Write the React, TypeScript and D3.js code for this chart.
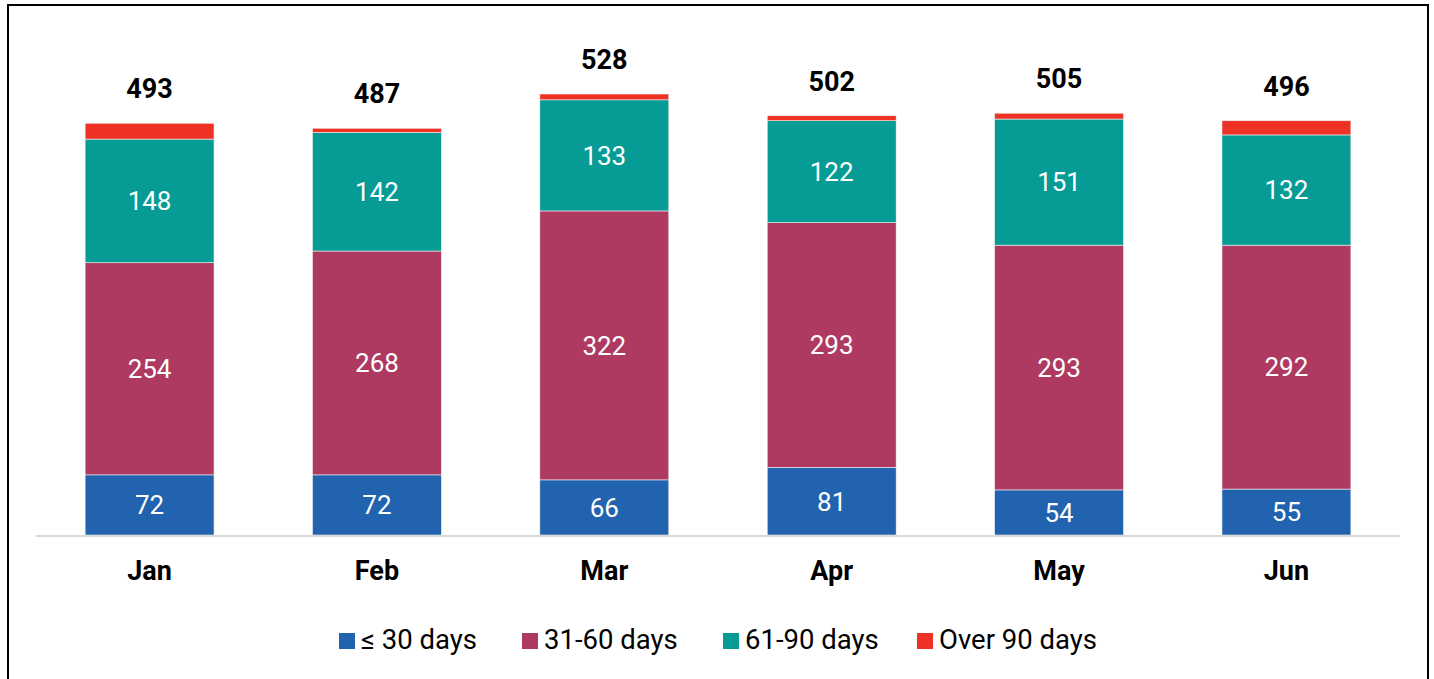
import React from "react";
import * as d3 from "d3";

const months = ["Jan", "Feb", "Mar", "Apr", "May", "Jun"];
const seriesNames = ["≤ 30 days", "31-60 days", "61-90 days", "Over 90 days"];
const upTo30 = [72, 72, 66, 81, 54, 55];
const d31to60 = [254, 268, 322, 293, 293, 292];
const d61to90 = [148, 142, 133, 122, 151, 132];
const over90 = [19, 5, 7, 6, 7, 17];
const totals = [493, 487, 528, 502, 505, 496];
const colors = ["#2163AE", "#AE3A61", "#069B94", "#EE3326"];

export default function App() {
  const W = 1434, H = 679;
  const x = d3.scaleBand<string>().domain(months).range([36, 1400]).paddingInner(0.433).paddingOuter(0.216);
  const y = d3.scaleLinear().domain([0, 528]).range([535, 94]);
  const series = [upTo30, d31to60, d61to90, over90];
  const rows = months.map((m, i) => ({ m, a: upTo30[i], b: d31to60[i], c: d61to90[i], d: over90[i] }));
  const stacked = d3.stack<any>().keys(["a", "b", "c", "d"])(rows);
  const font = "Roboto, 'Noto Sans', sans-serif";
  const legendX = [339, 522, 723, 917];
  return (
    <svg width={W} height={H} style={{ position: "absolute", left: 0, top: 0, background: "#fff" }} fontFamily={font}>
      <rect x={8} y={5} width={1420} height={H + 20} fill="#fff" stroke="#000" strokeWidth={2} />
      {stacked.map((s, si) => (
        <g key={si}>
          {s.map((d, i) => {
            const x0 = x(months[i])!;
            const y1 = y(d[1]);
            const y0 = y(d[0]);
            return (
              <g key={i}>
                <rect x={x0} y={y1} width={x.bandwidth()} height={y0 - y1} fill={colors[si]} stroke="#f2f2f2" strokeWidth={0.6} />
                {si < 3 && (
                  <text x={x0 + x.bandwidth() / 2} y={(y0 + y1) / 2} dy="0.36em" textAnchor="middle" fill="#fff" fontSize={26}>
                    {series[si][i]}
                  </text>
                )}
              </g>
            );
          })}
        </g>
      ))}
      <line x1={36} x2={1400} y1={y(0) + 1} y2={y(0) + 1} stroke="#d9d9d9" strokeWidth={2} />
      {months.map((m, i) => (
        <g key={m}>
          <text x={x(m)! + x.bandwidth() / 2} y={y(totals[i]) - 25} textAnchor="middle" fontWeight="bold" fontSize={27} fill="#000">
            {totals[i]}
          </text>
          <text x={x(m)! + x.bandwidth() / 2} y={580} textAnchor="middle" fontWeight="bold" fontSize={27} fill="#000">
            {m}
          </text>
        </g>
      ))}
      {seriesNames.map((n, i) => (
        <g key={n}>
          <rect x={legendX[i]} y={633} width={16} height={16} fill={colors[i]} />
          <text x={legendX[i] + 22} y={649} fontSize={27.5} fill="#000">{n}</text>
        </g>
      ))}
    </svg>
  );
}
